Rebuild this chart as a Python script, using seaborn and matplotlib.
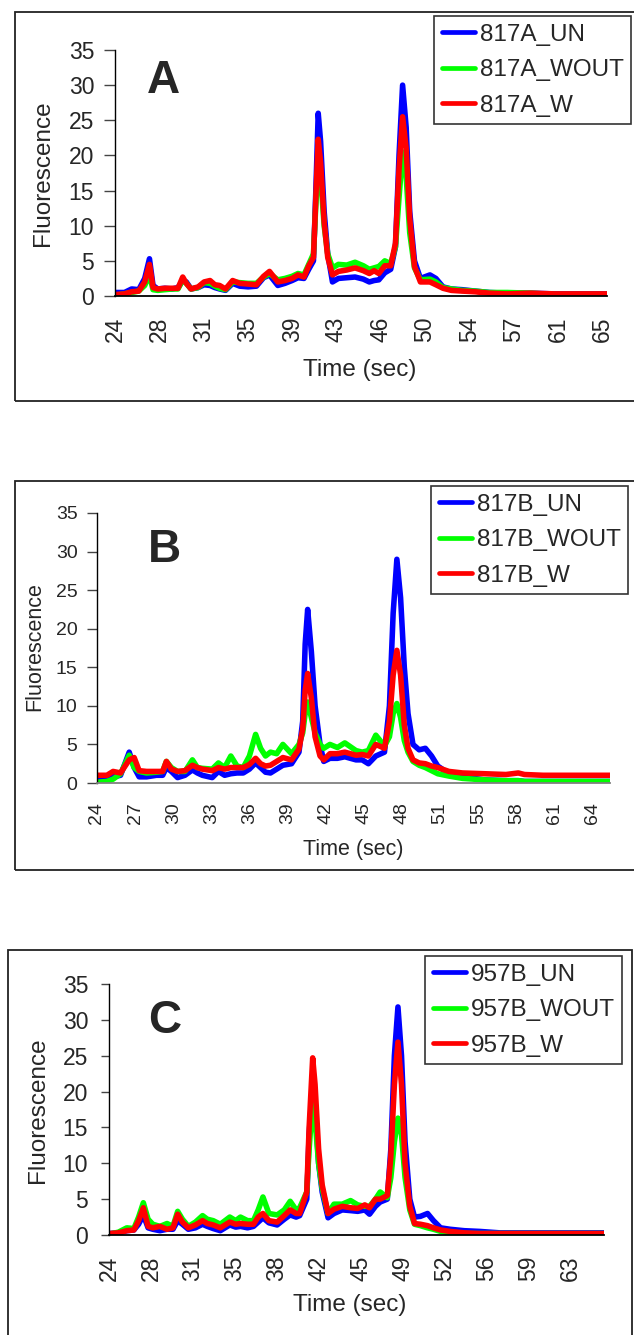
import numpy as np
import pandas as pd
import seaborn as sns
import matplotlib as mpl
from matplotlib import pyplot as plt
from matplotlib.patches import Rectangle

sns.set_style('white')
plt.rcParams['font.family'] = ['Liberation Sans', 'DejaVu Sans']

# Panel A data (time in sec, fluorescence)
time_a = [24.0, 24.8, 25.4, 26.0, 26.5, 26.9, 27.2, 27.6, 28.2, 28.8,
          29.3, 29.7, 30.0, 30.4, 31.0, 31.5, 32.0, 32.4, 32.8, 33.3,
          33.9, 34.5, 35.2, 35.9, 36.5, 37.0, 37.7, 38.3, 38.9, 39.4,
          39.9, 40.3, 40.7, 40.9, 41.1, 41.3, 41.6, 41.9, 42.3, 42.8,
          43.5, 44.2, 44.9, 45.4, 45.8, 46.2, 46.7, 47.2, 47.6, 47.9,
          48.2, 48.5, 48.8, 49.2, 49.7, 50.5, 51.0, 51.6, 52.3, 53.2,
          54.3, 55.5, 57.0, 59.0, 61.0, 63.0, 65.4]
un_a = [0.5, 0.5, 1.0, 0.9, 2.5, 5.3, 1.5, 1.0, 1.1, 1.0,
        1.2, 2.2, 2.0, 1.0, 1.2, 1.6, 1.5, 1.2, 1.0, 0.8,
        1.8, 1.4, 1.3, 1.4, 2.6, 3.0, 1.5, 1.8, 2.2, 2.6,
        2.5, 3.8, 5.0, 15.0, 26.0, 22.0, 12.0, 6.0, 2.0, 2.5,
        2.6, 2.7, 2.4, 2.0, 2.2, 2.3, 3.3, 3.8, 7.0, 20.0,
        30.0, 24.0, 12.0, 5.0, 2.5, 3.0, 2.5, 1.3, 1.0, 0.9,
        0.7, 0.5, 0.4, 0.4, 0.3, 0.3, 0.3]
wout_a = [0.1, 0.3, 0.5, 0.7, 1.5, 3.0, 0.9, 0.8, 0.9, 1.0,
          1.0, 2.3, 1.8, 1.0, 1.2, 1.9, 1.8, 1.4, 1.1, 0.9,
          2.0, 1.9, 1.8, 1.8, 2.7, 3.2, 2.3, 2.5, 2.8, 3.2,
          3.0, 4.5, 6.0, 13.0, 19.0, 17.0, 10.0, 6.0, 4.0, 4.5,
          4.4, 4.8, 4.3, 3.8, 4.0, 4.2, 5.0, 4.6, 7.0, 14.0,
          20.5, 17.0, 9.0, 4.0, 2.3, 2.4, 2.0, 1.2, 1.0, 0.8,
          0.7, 0.5, 0.5, 0.4, 0.2, 0.2, 0.2]
w_a = [0.2, 0.3, 0.6, 0.7, 2.0, 4.5, 1.2, 1.0, 1.1, 1.1,
       1.1, 2.7, 1.8, 1.0, 1.3, 2.0, 2.2, 1.6, 1.5, 1.0,
       2.2, 1.8, 1.7, 1.6, 2.8, 3.5, 2.0, 2.2, 2.5, 3.0,
       2.7, 4.3, 5.5, 14.0, 22.3, 19.0, 10.5, 5.5, 3.0, 3.5,
       3.7, 4.0, 3.6, 3.2, 3.6, 3.2, 4.3, 4.3, 7.5, 18.0,
       25.5, 21.0, 11.0, 4.2, 2.0, 2.0, 1.6, 1.1, 0.8, 0.7,
       0.6, 0.4, 0.3, 0.4, 0.3, 0.3, 0.3]
ticks_a = ['24', '28', '31', '35', '39', '43', '46', '50', '54', '57', '61', '65']
names_a = ['817A_UN', '817A_WOUT', '817A_W']

# Panel B data
time_b = [24.0, 24.8, 25.3, 25.9, 26.6, 27.0, 27.4, 28.0, 28.8, 29.3,
          29.6, 30.0, 30.5, 31.1, 31.7, 32.1, 32.5, 33.3, 33.8, 34.3,
          34.8, 35.3, 35.8, 36.3, 36.8, 37.2, 37.6, 38.0, 38.5, 39.0,
          39.7, 40.3, 40.6, 40.8, 41.0, 41.3, 41.6, 42.0, 42.3, 42.8,
          43.4, 44.0, 44.9, 45.4, 45.9, 46.5, 47.2, 47.6, 47.9, 48.2,
          48.5, 48.8, 49.1, 49.5, 50.0, 50.5, 51.0, 51.5, 52.4, 53.5,
          55.3, 57.0, 58.0, 58.5, 60.0, 62.0, 65.4]
un_b = [0.3, 0.3, 0.8, 1.0, 4.0, 2.0, 0.8, 0.8, 1.0, 1.0,
        2.0, 1.5, 0.7, 1.0, 1.7, 1.3, 1.0, 0.7, 1.5, 1.0,
        1.2, 1.3, 1.3, 1.8, 2.6, 2.0, 1.4, 1.3, 1.8, 2.3,
        2.5, 4.0, 8.0, 18.0, 22.5, 17.0, 10.0, 5.0, 2.8, 3.2,
        3.2, 3.4, 3.0, 3.0, 2.5, 3.5, 4.0, 10.0, 22.0, 29.0,
        24.0, 15.0, 9.0, 5.0, 4.3, 4.5, 3.5, 2.2, 1.2, 0.8,
        0.4, 0.3, 0.3, 0.2, 0.2, 0.2, 0.2]
wout_b = [0.1, 0.2, 0.5, 1.2, 3.6, 2.0, 1.5, 1.3, 1.4, 1.5,
          2.8, 2.0, 1.5, 1.5, 3.0, 2.0, 1.9, 1.8, 2.6, 2.0,
          3.5, 2.2, 2.0, 3.5, 6.3, 4.5, 3.5, 4.0, 3.8, 5.0,
          3.8, 5.0, 6.5, 9.0, 10.5, 8.5, 6.5, 5.0, 4.5, 5.0,
          4.6, 5.2, 4.2, 4.0, 4.2, 6.2, 4.8, 6.0, 9.0, 10.3,
          8.5, 5.5, 4.0, 2.8, 2.3, 2.0, 1.6, 1.2, 0.9, 0.6,
          0.4, 0.3, 0.3, 0.2, 0.2, 0.2, 0.2]
w_b = [1.0, 1.0, 1.5, 1.3, 3.0, 3.3, 1.6, 1.5, 1.5, 1.5,
       2.8, 1.8, 1.5, 1.6, 2.3, 2.0, 1.8, 1.6, 2.0, 1.8,
       2.0, 2.0, 2.0, 2.4, 3.2, 2.5, 2.2, 2.3, 2.8, 3.3,
       3.0, 4.4, 7.0, 12.0, 14.2, 11.0, 6.0, 3.5, 3.0, 3.8,
       3.8, 4.0, 3.6, 3.7, 3.5, 5.0, 4.5, 8.0, 14.0, 17.2,
       14.0, 7.5, 4.5, 3.0, 2.6, 2.5, 2.2, 2.0, 1.5, 1.3,
       1.2, 1.1, 1.3, 1.1, 1.0, 1.0, 1.0]
ticks_b = ['24', '27', '30', '33', '36', '39', '42', '45', '48', '51', '55', '58', '61', '64']
names_b = ['817B_UN', '817B_WOUT', '817B_W']

# Panel C data
time_c = [24.0, 24.8, 25.5, 26.1, 26.5, 26.9, 27.3, 27.7, 28.3, 28.9,
          29.4, 29.8, 30.2, 30.7, 31.3, 31.9, 32.3, 32.8, 33.4, 34.2,
          34.7, 35.1, 35.7, 36.2, 36.6, 37.0, 37.5, 38.2, 38.8, 39.3,
          39.8, 40.1, 40.7, 40.9, 41.2, 41.4, 41.7, 42.0, 42.5, 43.0,
          43.7, 44.4, 45.0, 45.6, 46.0, 46.5, 46.9, 47.5, 47.8, 48.1,
          48.4, 48.7, 49.0, 49.4, 49.8, 50.3, 50.9, 51.4, 52.0, 52.8,
          54.0, 55.3, 57.0, 59.5, 62.0, 64.0, 65.8]
un_c = [0.2, 0.3, 0.6, 0.7, 1.5, 2.8, 1.0, 0.8, 0.6, 0.8,
        0.8, 2.0, 1.5, 0.8, 1.0, 1.5, 1.2, 0.9, 0.6, 1.4,
        1.1, 1.2, 1.0, 1.2, 1.8, 2.4, 1.7, 1.4, 2.2, 2.8,
        2.5, 2.7, 5.0, 14.0, 21.0, 18.0, 10.0, 6.0, 2.4, 3.0,
        3.5, 3.4, 3.3, 3.5, 2.9, 4.0, 4.6, 5.0, 12.0, 25.0,
        31.8, 25.0, 13.0, 5.0, 2.5, 2.6, 3.0, 2.0, 1.0, 0.8,
        0.6, 0.5, 0.3, 0.3, 0.3, 0.3, 0.3]
wout_c = [0.1, 0.4, 1.0, 0.9, 2.5, 4.5, 2.2, 1.5, 1.2, 1.6,
          1.2, 3.3, 2.2, 1.2, 1.8, 2.7, 2.2, 2.0, 1.5, 2.5,
          2.0, 2.5, 2.0, 2.0, 3.5, 5.3, 3.0, 2.8, 3.5, 4.7,
          3.5, 3.8, 6.0, 12.0, 19.0, 16.0, 10.0, 6.5, 3.0, 4.3,
          4.3, 4.8, 4.2, 4.0, 4.0, 5.0, 6.0, 5.2, 8.0, 13.0,
          16.3, 14.0, 8.0, 3.5, 1.5, 1.3, 1.0, 0.8, 0.5, 0.3,
          0.2, 0.2, 0.2, 0.2, 0.2, 0.2, 0.2]
w_c = [0.2, 0.3, 0.6, 0.7, 2.0, 3.8, 1.2, 1.0, 1.2, 0.8,
       1.0, 2.9, 1.8, 1.0, 1.4, 2.0, 1.6, 1.4, 1.0, 1.8,
       1.5, 1.6, 1.5, 1.5, 2.5, 3.0, 2.0, 1.8, 2.7, 3.5,
       3.0, 3.0, 6.0, 15.0, 24.7, 21.0, 12.0, 7.0, 3.0, 3.6,
       4.0, 3.8, 3.7, 4.2, 3.8, 5.0, 5.0, 5.5, 11.0, 21.0,
       26.9, 21.0, 10.0, 4.0, 1.6, 1.5, 1.3, 1.0, 0.7, 0.5,
       0.3, 0.2, 0.2, 0.2, 0.2, 0.2, 0.2]
ticks_c = ['24', '28', '31', '35', '38', '42', '45', '49', '52', '56', '59', '63']
names_c = ['957B_UN', '957B_WOUT', '957B_W']

line_colors = ['#0000FF', '#00FF00', '#FF0000']

W, H = 634, 1335


def fx(x):
    return x / W


def fy(y):
    return 1 - y / H


def draw_panel(fig, times, series, names, ticks, letter, lay):
    # Excel style chart area frame
    fl, ft, fr, fb = lay['frame']
    fig.patches.append(Rectangle((fx(fl), fy(fb)), (fr - fl) / W, (fb - ft) / H,
                                 transform=fig.transFigure, fill=False,
                                 edgecolor='#222222', linewidth=1.3))

    left, right, y0, ytop = lay['axes']
    ax = fig.add_axes([fx(left), fy(y0), (right - left) / W, (y0 - ytop) / H])

    df = pd.DataFrame({'Time': times})
    for vals, name, col in zip(series, names, line_colors):
        df[name] = vals
        sns.lineplot(data=df, x='Time', y=name, ax=ax, color=col, linewidth=4.0,
                     label=name)

    ax.set_xlim(24, lay['xmax'])
    ax.set_ylim(0, 35)
    ax.set_yticks(np.arange(0, 36, 5))
    ax.set_xticks(np.linspace(24, float(ticks[-1]), len(ticks)))
    ax.set_xticklabels(ticks, rotation=90)
    ax.set_xlabel('')
    ax.set_ylabel('')
    ax.tick_params(axis='y', direction='out', length=lay['ytick_len'], width=1,
                   color='#444444', labelsize=lay['tick_fs'], pad=lay['ypad'], left=True)
    ax.tick_params(axis='x', length=0, labelsize=lay['tick_fs'], pad=lay['xpad'])
    for s in ['top', 'right']:
        ax.spines[s].set_visible(False)
    ax.spines['left'].set_color('#000000')
    ax.spines['left'].set_linewidth(1)
    ax.spines['bottom'].set_color(lay['xspine'])
    ax.spines['bottom'].set_linewidth(1.3)
    ax.patch.set_alpha(0)

    fig.text(fx(lay['ylab'][0]), fy(lay['ylab'][1]), 'Fluorescence', rotation=90,
             ha='center', va='center', fontsize=lay['label_fs'])
    fig.text(fx(lay['xlab'][0]), fy(lay['xlab'][1]), 'Time (sec)',
             ha='center', va='center', fontsize=lay['label_fs'])
    fig.text(fx(lay['letter'][0]), fy(lay['letter'][1]), letter, ha='left',
             va='baseline', fontsize=33, fontweight='bold')

    leg = ax.legend(loc='upper left', bbox_to_anchor=(fx(lay['legend'][0]), fy(lay['legend'][1])),
                    bbox_transform=fig.transFigure, fontsize=17.5, frameon=True,
                    fancybox=False, borderpad=0.32, labelspacing=0.55, handlelength=1.36,
                    handletextpad=0.2, borderaxespad=0)
    leg.get_frame().set_edgecolor('#000000')
    leg.get_frame().set_linewidth(1.2)
    for h in leg.get_lines():
        h.set_linewidth(3.4)
    return ax


fig = plt.figure(figsize=(W / 100, H / 100), dpi=100)

layout_a = dict(frame=(15, 12, 645, 401), axes=(115, 607, 296, 50), xmax=65.4,
                tick_fs=16.5, label_fs=17.5, ytick_len=8, ypad=7, xpad=15,
                xspine='#000000', ylab=(43, 173), xlab=(360, 370), letter=(147, 93),
                legend=(434, 16))
layout_b = dict(frame=(15, 481, 645, 870), axes=(97, 610, 783, 513), xmax=65.4,
                tick_fs=14, label_fs=15.5, ytick_len=7, ypad=7, xpad=14,
                xspine='#808080', ylab=(35, 647), xlab=(353, 850), letter=(148, 562),
                legend=(431, 486))
layout_c = dict(frame=(8, 950, 632, 1345), axes=(109, 604, 1235, 984), xmax=65.8,
                tick_fs=16.5, label_fs=17.5, ytick_len=6, ypad=9, xpad=15,
                xspine='#000000', ylab=(38, 1110), xlab=(350, 1305), letter=(148, 1033),
                legend=(425, 956))

draw_panel(fig, time_a, [un_a, wout_a, w_a], names_a, ticks_a, 'A', layout_a)
draw_panel(fig, time_b, [un_b, wout_b, w_b], names_b, ticks_b, 'B', layout_b)
draw_panel(fig, time_c, [un_c, wout_c, w_c], names_c, ticks_c, 'C', layout_c)

plt.savefig('out.png', dpi=100)
